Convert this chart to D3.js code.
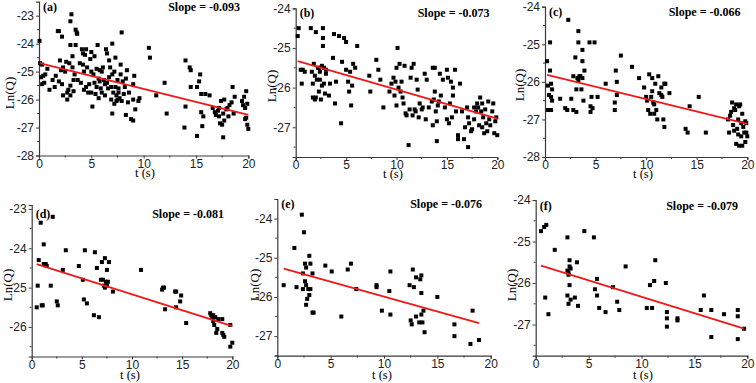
<!DOCTYPE html>
<html><head><meta charset="utf-8">
<script src="https://cdn.jsdelivr.net/npm/d3@7/dist/d3.min.js"></script>
<style>
html,body{margin:0;padding:0;background:#fff;}
svg{display:block;}
</style></head>
<body>
<svg id="chart" width="756" height="383"></svg>
<script>
// ---------- DATA ----------
const panelLabels = ["(a)", "(b)", "(c)", "(d)", "(e)", "(f)"];
const slopes = [-0.093, -0.073, -0.066, -0.081, -0.076, -0.079];
const intercepts = [-24.69, -25.32, -25.80, -24.36, -25.23, -25.54];
const xTicks = [0, 5, 10, 15, 20];
const yTicksA = [-28, -27, -26, -25, -24, -23];
const yTicksB = [-27, -26, -25, -24];
const yTicksC = [-28, -27, -26, -25, -24];
const yTicksD = [-26, -25, -24, -23];
const yTicksE = [-27, -26, -25, -24];
const yTicksF = [-27, -26, -25, -24];
const yDomains = [[-28, -22.5], [-27.75, -24], [-28, -24], [-26.75, -22.9], [-27.5, -23.5], [-27.75, -24]];
const xLabel = "t (s)";
const yLabel = "Ln(Q)";

const dataA = [
[0.05,-23.9],[0.1,-24.7],[0.3,-24.75],[0.2,-25.2],[0.4,-25.15],[0.3,-25.45],[0.5,-25.4],[0.8,-24.9],[0.6,-25.1],
[1.0,-25.65],[1.3,-25.3],[1.5,-25.55],[1.6,-25.15],[1.8,-23.55],[1.9,-23.55],[2.0,-24.6],[2.1,-24.95],[2.2,-23.75],[2.2,-25.45],[2.3,-25.85],[2.3,-24.85],[1.9,-25.35],
[2.6,-24.65],[2.7,-25.75],[2.8,-25.65],[2.9,-24.7],[3.0,-24.05],[3.0,-23.2],[3.1,-22.95],[3.0,-25.5],[3.2,-24.85],[3.3,-25.3],[3.3,-25.7],[3.4,-25.1],[3.5,-24.05],[3.5,-23.5],[3.6,-23.6],[3.65,-23.65],[3.0,-25.85],[3.2,-24.45],[3.7,-25.3],[2.5,-25.0],[2.7,-26.0],
[3.9,-24.7],[4.0,-25.4],[4.1,-24.2],[4.2,-24.35],[4.2,-24.75],[4.3,-25.0],[4.3,-25.65],[4.4,-24.4],[4.5,-24.2],[4.6,-24.85],[4.7,-25.75],[4.8,-25.45],[4.9,-24.55],[5.0,-24.3],[5.0,-25.0],[5.0,-25.75],[5.1,-26.25],[5.2,-25.1],[5.3,-24.45],[5.3,-25.4],[5.4,-25.8],[4.5,-25.55],
[5.5,-24.9],[5.5,-25.55],[5.6,-24.05],[5.7,-25.25],[5.7,-25.95],[5.8,-24.95],[5.9,-25.6],[6.0,-25.0],[6.0,-25.75],[6.1,-24.85],[6.2,-25.3],[6.3,-25.85],[6.4,-24.2],[6.5,-24.35],[6.5,-25.4],[6.6,-25.6],[6.7,-24.6],[6.7,-25.2],[6.8,-24.85],[6.3,-25.45],[5.8,-25.35],
[6.9,-25.55],[7.0,-24.0],[7.0,-25.1],[7.0,-26.5],[7.1,-25.75],[7.2,-25.0],[7.2,-26.15],[7.3,-24.5],[7.3,-25.55],[7.4,-25.85],[7.5,-25.3],[7.5,-26.0],[7.6,-25.6],[7.7,-25.95],[7.8,-24.75],[7.8,-25.1],[7.9,-23.6],[7.9,-26.05],[8.0,-25.35],[8.1,-25.8],[8.2,-25.55],[8.3,-25.25],[8.3,-26.55],[8.4,-24.95],[8.5,-26.1],[8.6,-25.75],[8.8,-26.7],[9.0,-26.75],[9.0,-25.45],[9.0,-26.0],[9.1,-25.15],[9.2,-26.35],[9.5,-26.05],[9.6,-25.95],[7.6,-25.75],[6.9,-26.0],[7.4,-26.05],
[10.5,-24.15],[10.6,-24.5],[11.2,-25.85],[12.0,-25.4],[12.2,-26.5],
[13.9,-27.0],[14.0,-26.25],[14.0,-24.6],[14.4,-24.85],[14.5,-24.95],[14.5,-25.55],[15.1,-25.55],[15.1,-27.3],[15.3,-25.35],[15.4,-25.1],[15.5,-25.8],[15.5,-26.45],[15.6,-26.95],[15.7,-26.6],[15.9,-25.8],[16.3,-25.85],
[16.6,-26.3],[16.8,-26.45],[17.1,-26.4],[17.2,-26.6],[17.3,-26.85],[17.4,-26.05],[17.5,-26.9],[17.6,-27.35],[17.6,-26.5],[17.7,-26.0],[17.7,-26.75],[17.9,-26.35],[18.0,-26.3],[18.1,-26.6],[18.2,-26.2],[18.4,-26.1],[18.5,-25.55],[18.6,-26.5],[18.7,-25.9],[19.4,-26.05],[19.5,-26.2],[19.6,-25.9],[19.7,-26.7],[19.8,-26.65],[19.8,-25.7],[19.9,-26.15],[19.9,-26.9],[20.0,-27.05],[19.7,-26.3],[17.2,-26.3],[16.9,-26.55]
];

const dataB = [
[0.2,-24.7],[0.3,-24.5],[0.5,-25.55],[0.6,-25.9],[0.7,-25.55],[0.9,-25.6],[1.5,-24.5],[1.6,-25.6],[1.7,-25.9],[1.7,-26.25],[1.8,-25.4],[1.9,-26.3],[1.9,-25.7],[2.0,-24.6],[2.0,-26.25],[2.1,-25.8],[2.2,-25.5],[2.3,-25.5],[2.3,-26.1],[2.4,-25.6],[2.4,-25.8],[2.5,-26.3],[2.6,-25.45],[2.6,-25.95],[2.7,-24.5],[2.7,-24.75],[2.7,-24.95],[2.8,-25.5],[2.8,-25.9],[2.9,-26.15],[3.0,-25.65],[3.0,-25.55],[3.3,-26.2],[3.4,-25.9],[3.7,-25.25],[3.8,-24.65],[3.9,-26.4],[4.0,-25.85],[4.3,-24.7],[4.5,-26.9],[4.6,-25.35],[4.8,-24.75],[5.0,-24.85],[5.0,-25.55],[5.2,-25.85],[5.3,-26.1],[5.4,-25.6],[5.5,-26.45],[5.6,-25.95],[5.7,-25.4],[5.9,-25.5],[6.1,-24.95],
[7.3,-25.7],[7.4,-26.1],[8.0,-25.3],[8.2,-25.55],[8.4,-25.8],[8.7,-26.5],[9.3,-26.1],[9.5,-25.9],[9.7,-25.75],[9.8,-26.2],[9.9,-25.85],[10.0,-26.45],[10.0,-25.5],[10.1,-25.0],[10.2,-26.0],[10.3,-25.4],[10.4,-26.1],[10.5,-25.85],[10.6,-26.25],[10.7,-26.4],[10.8,-25.45],[10.9,-26.65],[11.0,-26.7],[11.2,-27.45],[11.3,-26.55],[11.4,-25.75],[11.5,-25.5],[11.6,-26.7],[11.7,-25.4],[11.8,-26.55],[11.9,-26.6],[12.0,-25.8],[12.1,-26.05],[12.2,-26.75],[12.3,-26.4],[12.5,-26.55],[12.6,-26.5],[12.8,-25.65],[12.9,-26.8],[13.0,-25.8],[13.2,-26.5],[13.5,-26.35],[13.6,-25.5],[13.6,-26.95],[13.7,-26.3],[13.8,-25.5],[13.8,-26.1],[13.9,-26.6],[14.0,-26.85],[14.0,-27.35],[14.1,-26.45],[14.2,-26.35],[14.3,-25.65],[14.4,-26.2],[14.6,-25.8],[14.8,-26.5],[15.0,-25.55],[15.0,-26.8],[15.1,-25.75],[15.2,-26.9],[15.3,-26.4],[15.4,-25.85],[15.5,-26.75],[15.6,-26.0],[15.6,-26.2],[15.8,-25.55],[15.9,-26.6],[16.1,-27.3],[16.1,-27.2],[16.3,-25.9],[16.5,-26.6],[16.7,-27.3],[16.8,-27.0],[17.0,-26.5],[17.1,-27.5],[17.1,-26.75],[17.2,-26.9],[17.4,-27.1],[17.5,-27.05],[17.7,-26.5],[17.7,-26.8],[17.9,-26.6],[18.0,-26.4],[18.1,-26.5],[18.2,-26.95],[18.3,-26.25],[18.4,-26.6],[18.5,-27.0],[18.5,-26.4],[18.6,-26.75],[18.7,-27.15],[18.8,-26.55],[18.9,-26.9],[19.0,-27.1],[19.1,-26.35],[19.2,-26.8],[19.3,-26.95],[19.5,-26.6],[19.6,-26.4],[19.7,-27.15],[19.8,-26.85],[19.9,-26.75],[20.0,-27.2]
];

const dataC = [
[0.2,-25.45],[0.3,-26.1],[0.3,-26.75],[0.4,-26.35],[0.5,-24.95],[0.5,-25.7],[0.6,-26.05],[0.6,-26.4],[0.6,-26.75],[0.7,-26.2],[0.7,-26.5],[1.5,-26.45],[2.0,-26.7],[2.2,-26.75],[2.3,-24.35],[2.6,-26.45],[2.8,-25.85],[2.8,-26.75],[3.0,-25.35],[3.1,-26.2],[3.1,-26.8],[3.2,-25.9],[3.3,-24.65],[3.3,-24.95],[3.3,-25.95],[3.4,-25.85],[3.5,-25.85],[3.6,-26.2],[3.7,-25.9],[3.7,-25.45],[3.7,-25.15],[3.8,-26.5],[3.9,-25.7],[4.4,-24.95],[4.5,-26.65],[4.5,-26.8],[4.6,-26.4],[4.7,-26.7],[4.9,-24.95],[5.2,-26.4],[6.0,-26.05],[6.9,-26.55],[6.9,-26.75],[7.0,-25.7],[7.1,-26.0],[7.1,-26.35],[7.5,-25.3],[8.6,-25.6],[9.3,-25.9],[9.8,-26.15],[10.0,-26.4],[10.1,-26.5],[10.2,-26.75],[10.3,-25.8],[10.4,-26.85],[10.5,-26.4],[10.6,-26.25],[10.6,-25.9],[10.7,-26.55],[10.8,-26.6],[10.8,-26.85],[10.9,-26.05],[11.0,-26.75],[11.1,-27.0],[11.2,-25.85],[11.3,-26.3],[11.5,-26.15],[11.5,-26.35],[11.6,-26.4],[11.7,-27.0],[11.8,-27.2],[11.8,-26.05],[11.9,-26.05],[12.3,-26.3],[13.9,-27.25],[14.1,-27.35],[14.3,-26.65],[15.2,-26.4],[15.9,-27.35],
[18.1,-27.0],[18.2,-27.35],[18.3,-26.9],[18.4,-26.8],[18.5,-26.55],[18.6,-27.15],[18.7,-26.7],[18.7,-27.3],[18.8,-26.75],[18.9,-27.65],[18.9,-26.6],[19.0,-27.25],[19.1,-27.0],[19.1,-27.4],[19.2,-26.65],[19.2,-27.7],[19.3,-26.6],[19.4,-27.1],[19.4,-27.45],[19.5,-26.85],[19.5,-27.7],[19.6,-27.2],[19.7,-27.35],[19.8,-27.05],[19.8,-27.6],[19.9,-27.35],[19.9,-27.1],[20.0,-27.45]
];

const dataD = [
[0.5,-25.5],[0.6,-24.95],[0.7,-24.3],[0.9,-23.35],[1.0,-25.45],[1.1,-25.45],[1.2,-23.9],[1.2,-24.4],[1.4,-24.4],[1.5,-24.45],[1.9,-24.95],[2.1,-23.2],[2.5,-25.35],[2.6,-25.45],[3.1,-24.55],[3.4,-24.05],[4.7,-24.45],[5.1,-24.8],[5.2,-25.3],[5.3,-24.05],[5.5,-25.4],[6.2,-25.7],[6.3,-24.1],[6.5,-24.5],[6.7,-25.75],[6.9,-24.8],[7.0,-24.35],[7.1,-24.8],[7.2,-24.95],[7.3,-25.0],[7.3,-24.25],[7.4,-24.85],[7.5,-24.55],[7.5,-24.95],[7.6,-24.85],[7.7,-24.35],[8.1,-25.1],[10.9,-24.55],[13.0,-25.05],[13.1,-25.0],[13.2,-25.0],[13.3,-25.55],[14.3,-25.1],[14.4,-25.1],[14.4,-25.5],[14.8,-25.35],[14.9,-25.2],[15.4,-25.9],[17.8,-25.65],[17.9,-25.7],[18.0,-25.75],[18.1,-25.85],[18.1,-25.7],[18.2,-25.95],[18.3,-25.75],[18.4,-26.15],[18.5,-26.05],[18.6,-25.8],[19.0,-25.8],[19.0,-26.15],[19.1,-26.2],[19.2,-26.25],[19.8,-25.95],[19.8,-26.5],[20.0,-26.4]
];

const dataE = [
[0.6,-25.7],[1.6,-24.75],[1.8,-25.75],[2.3,-23.9],[2.4,-25.8],[2.4,-25.4],[2.5,-24.35],[2.6,-25.15],[2.6,-25.6],[2.7,-25.25],[2.7,-25.7],[2.7,-26.2],[2.8,-26.05],[2.9,-25.8],[3.0,-24.95],[3.0,-25.95],[3.1,-25.15],[3.1,-25.8],[3.3,-25.4],[3.3,-26.4],[3.4,-26.4],[4.5,-25.2],[5.1,-25.35],[6.0,-26.5],[6.6,-25.3],[6.9,-25.15],[7.4,-25.8],[9.3,-25.7],[9.3,-25.75],[9.8,-26.35],[10.5,-25.85],[10.6,-25.35],[10.6,-26.45],[12.4,-25.7],[12.5,-26.6],[12.6,-26.7],[12.7,-25.3],[12.8,-25.75],[13.0,-26.5],[13.0,-25.5],[13.3,-26.65],[13.4,-25.55],[13.5,-25.9],[13.5,-25.45],[13.5,-26.45],[13.6,-26.65],[13.7,-26.35],[13.8,-26.9],[15.0,-26.0],[16.6,-26.7],[16.6,-27.0],[18.1,-27.2],[18.3,-26.35],[18.9,-27.1]
];

const dataF = [
[0.5,-24.75],[0.8,-24.65],[1.0,-24.6],[0.9,-26.35],[1.2,-26.75],[1.8,-25.2],[3.0,-24.9],[3.0,-25.7],[3.0,-26.3],[3.1,-25.8],[3.1,-25.75],[3.1,-26.5],[3.2,-25.45],[3.2,-25.6],[3.2,-26.05],[3.3,-26.4],[3.3,-25.65],[3.7,-26.35],[3.9,-25.5],[4.0,-26.55],[4.6,-24.75],[5.5,-24.9],[5.6,-26.15],[5.8,-26.3],[5.8,-25.9],[6.0,-26.6],[6.6,-26.7],[7.3,-26.1],[7.7,-26.45],[7.9,-26.65],[8.5,-25.6],[10.5,-26.6],[10.8,-26.05],[11.0,-26.6],[11.2,-25.95],[11.3,-25.45],[12.3,-26.0],[12.4,-26.7],[12.4,-26.85],[12.4,-27.05],[13.4,-26.85],[13.4,-26.9],[15.6,-26.65],[15.9,-26.3],[16.6,-26.65],[16.6,-27.3],[17.8,-26.75],[19.1,-26.65],[19.1,-26.8],[19.1,-27.35],[19.7,-27.1]
];

// ---------- LAYOUT ----------
const allData = [dataA, dataB, dataC, dataD, dataE, dataF];
const allYTicks = [yTicksA, yTicksB, yTicksC, yTicksD, yTicksE, yTicksF];
const frames = [
  {x0: 39,    x1: 248.3, yT: 1.7,  yB: 155.5, ylx: 14,  yly: 93,  xlx: 145, xly: 177, ly: 11,  sx: 240},
  {x0: 295.7, x1: 497.3, yT: 8.3,  yB: 157,   ylx: 276, yly: 86,  xlx: 393, xly: 178, ly: 17,  sx: 489.5},
  {x0: 545,   x1: 747.3, yT: 6.7,  yB: 157,   ylx: 524, yly: 85,  xlx: 643, xly: 178, ly: 16,  sx: 740.5},
  {x0: 31.7,  x1: 232.3, yT: 205,  yB: 356.5, ylx: 12,  yly: 285, xlx: 130, xly: 379, ly: 218, sx: 224},
  {x0: 277.3, x1: 490.7, yT: 199,  yB: 355.7, ylx: 259, yly: 285, xlx: 382, xly: 379, ly: 208, sx: 482},
  {x0: 535.7, x1: 747.3, yT: 200,  yB: 355.7, ylx: 516, yly: 285, xlx: 643, xly: 379, ly: 210, sx: 738}
];

const svg = d3.select("#chart");
const axisColor = "#3a3a3a";
const serif = "'Liberation Serif', 'Times New Roman', serif";
const sans = "'Liberation Sans', Arial, sans-serif";

frames.forEach((f, i) => {
  const x = d3.scaleLinear().domain([0, 20]).range([f.x0, f.x1]);
  const y = d3.scaleLinear().domain(yDomains[i]).range([f.yB, f.yT]);
  const g = svg.append("g");

  const xMinor = d3.range(2.5, 20, 5);
  const yd = yDomains[i];
  const yMinor = d3.range(Math.ceil(yd[0]) - 0.5, yd[1], 1).filter(v => v >= yd[0] && v <= yd[1]);

  const xAxis = d3.axisBottom(x).tickValues(xTicks).tickSize(3).tickPadding(0.5).tickFormat(d => String(d));
  const yAxis = d3.axisLeft(y).tickValues(allYTicks[i]).tickSize(3).tickPadding(2).tickFormat(d => String(d));

  const gx = g.append("g").attr("transform", `translate(0,${f.yB})`).call(xAxis);
  const gy = g.append("g").attr("transform", `translate(${f.x0},0)`).call(yAxis);
  [gx, gy].forEach(a => {
    a.select(".domain").attr("stroke", axisColor).attr("stroke-width", 1.2);
    a.selectAll(".tick line").attr("stroke", axisColor);
    a.selectAll(".tick text").attr("fill", "#222")
      .style("font-family", sans).style("font-size", "12px");
  });
  g.append("g").selectAll("line").data(xMinor).join("line")
    .attr("x1", d => x(d)).attr("x2", d => x(d)).attr("y1", f.yB).attr("y2", f.yB + 2)
    .attr("stroke", axisColor);
  g.append("g").selectAll("line").data(yMinor).join("line")
    .attr("x1", f.x0).attr("x2", f.x0 - 2).attr("y1", d => y(d)).attr("y2", d => y(d))
    .attr("stroke", axisColor);

  // points
  const s = 4;
  g.append("g").selectAll("rect").data(allData[i]).join("rect")
    .attr("x", d => x(d[0]) - s / 2).attr("y", d => y(d[1]) - s / 2)
    .attr("width", s).attr("height", s).attr("fill", "#000");

  // regression line over data extent
  const ext = d3.extent(allData[i], d => d[0]);
  g.append("line")
    .attr("x1", x(ext[0])).attr("y1", y(intercepts[i] + slopes[i] * ext[0]))
    .attr("x2", x(ext[1])).attr("y2", y(intercepts[i] + slopes[i] * ext[1]))
    .attr("stroke", "#f01818").attr("stroke-width", 1.8);

  // labels
  g.append("text").attr("x", f.x0 + 4).attr("y", f.ly)
    .style("font-family", serif).style("font-weight", "bold").style("font-size", "12px")
    .text(panelLabels[i]);
  g.append("text").attr("x", f.sx).attr("y", f.ly).attr("text-anchor", "end")
    .style("font-family", serif).style("font-weight", "bold").style("font-size", "12px")
    .text("Slope = " + slopes[i].toFixed(3));
  g.append("text").attr("x", f.xlx).attr("y", f.xly).attr("text-anchor", "middle")
    .style("font-family", serif).style("font-size", "12.5px")
    .text(xLabel);
  g.append("text").attr("transform", `translate(${f.ylx},${f.yly}) rotate(-90)`)
    .attr("text-anchor", "middle")
    .style("font-family", serif).style("font-size", "13px")
    .text(yLabel);
});
</script>
</body></html>
